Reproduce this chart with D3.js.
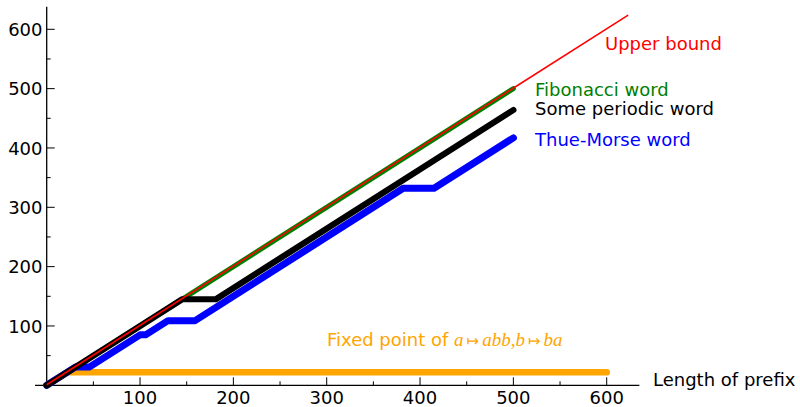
<!DOCTYPE html>
<html>
<head>
<meta charset="utf-8">
<script src="https://cdn.jsdelivr.net/npm/d3@7"></script>
<style>
  body { margin: 0; background: #fff; }
  svg { display: block; }
  text { font-family: "DejaVu Sans", sans-serif; }
  .tick_label { font-size: 18px; fill: #000; }
  .math { font-family: "Liberation Serif", serif; font-style: italic; font-size: 19px; }
  .sym { font-family: "DejaVu Sans", sans-serif; font-size: 15px; }
</style>
</head>
<body>
<svg width="800" height="407"></svg>
<script>
  // palindrome counts vs. prefix length
  const upperX = [0, 623];
  const upperY = [1, 624];
  const fiboX = [0, 500];
  const fiboY = [0, 500];
  const periodicX = [0, 145, 181, 500];
  const periodicY = [0, 145, 145, 464];
  const thueX = [0, 31, 46, 100, 106, 130, 159, 382, 415, 500];
  const thueY = [0, 31, 31, 85, 85, 109, 109, 332, 332, 417];
  const fixedX = [0, 22, 600];
  const fixedY = [0, 22, 22];
  const xTicks = [100, 200, 300, 400, 500, 600];
  const yTicks = [100, 200, 300, 400, 500, 600];
  const xMinor = [50, 150, 250, 350, 450, 550];
  const yMinor = [50, 150, 250, 350, 450, 550];

  const svg = d3.select("svg");

  const x = d3.scaleLinear().domain([0, 600]).range([46.7, 606.7]);
  const y = d3.scaleLinear().domain([0, 600]).range([385.3, 29.3]);

  const zip = (xs, ys) => xs.map((v, i) => [v, ys[i]]);
  const line = d3.line().x(d => x(d[0])).y(d => y(d[1]));

  // axes crossing at the origin
  const axes = svg.append("g").attr("stroke", "#000");
  axes.append("line")
      .attr("x1", x(-12.5)).attr("x2", x(635))
      .attr("y1", y(0)).attr("y2", y(0))
      .attr("stroke-width", 1.3);
  axes.append("line")
      .attr("x1", x(0)).attr("x2", x(0))
      .attr("y1", y(-2)).attr("y2", y(638))
      .attr("stroke-width", 1.3);

  axes.selectAll(".xt").data(xTicks).enter().append("line")
      .attr("x1", d => x(d)).attr("x2", d => x(d))
      .attr("y1", y(0)).attr("y2", y(0) - 8).attr("stroke-width", 1);
  axes.selectAll(".xm").data(xMinor).enter().append("line")
      .attr("x1", d => x(d)).attr("x2", d => x(d))
      .attr("y1", y(0)).attr("y2", y(0) - 4).attr("stroke-width", 1);
  axes.selectAll(".yt").data(yTicks).enter().append("line")
      .attr("x1", x(0)).attr("x2", x(0) + 8)
      .attr("y1", d => y(d)).attr("y2", d => y(d)).attr("stroke-width", 1);
  axes.selectAll(".ym").data(yMinor).enter().append("line")
      .attr("x1", x(0)).attr("x2", x(0) + 4)
      .attr("y1", d => y(d)).attr("y2", d => y(d)).attr("stroke-width", 1);

  svg.append("g").selectAll("text").data(xTicks).enter().append("text")
      .attr("class", "tick_label")
      .attr("x", d => x(d)).attr("y", 404)
      .attr("text-anchor", "middle")
      .text(d => d);
  svg.append("g").selectAll("text").data(yTicks).enter().append("text")
      .attr("class", "tick_label")
      .attr("x", 42.5).attr("y", d => y(d) + 6.6)
      .attr("text-anchor", "end")
      .text(d => d);

  // series, bottom to top
  const series = [
    {pts: zip(fixedX, fixedY), color: "#ffa500", w: 6.7},
    {pts: zip(thueX, thueY), color: "#0000ff", w: 7},
    {pts: zip(fiboX, fiboY), color: "#008000", w: 5},
    {pts: zip(periodicX, periodicY), color: "#000000", w: 6.2},
    {pts: zip(upperX, upperY), color: "#ff0000", w: 1.6}
  ];
  svg.append("g").selectAll("path").data(series).enter().append("path")
      .attr("d", d => line(d.pts))
      .attr("fill", "none")
      .attr("stroke", d => d.color)
      .attr("stroke-width", d => d.w)
      .attr("stroke-linecap", d => d.w > 2 ? "round" : "butt")
      .attr("stroke-linejoin", "round");

  // labels
  const lab = (tx, ty, txt, color) => svg.append("text")
      .attr("x", tx).attr("y", ty)
      .attr("font-size", 18).attr("fill", color).text(txt);
  lab(605, 50, "Upper bound", "#ff0000");
  lab(535, 96, "Fibonacci word", "#008000");
  lab(535, 114.5, "Some periodic word", "#000000");
  lab(535, 145.5, "Thue-Morse word", "#0000ff");
  lab(653, 385.5, "Length of prefix", "#000000");

  const fp = lab(327, 346, "Fixed point of ", "#ffa500");
  fp.append("tspan").attr("class", "math").text("a");
  fp.append("tspan").attr("class", "sym").attr("dx", 3).text("\u21A6");
  fp.append("tspan").attr("class", "math").attr("dx", 3).text("abb");
  fp.append("tspan").attr("class", "math").attr("font-style", "normal").text(",");
  fp.append("tspan").attr("class", "math").text("b");
  fp.append("tspan").attr("class", "sym").attr("dx", 3).text("\u21A6");
  fp.append("tspan").attr("class", "math").attr("dx", 3).text("ba");
</script>
</body>
</html>
